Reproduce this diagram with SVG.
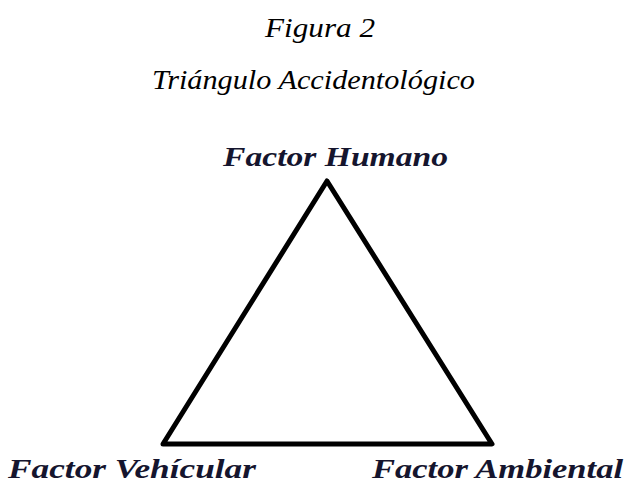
<svg xmlns="http://www.w3.org/2000/svg" width="626" height="483" viewBox="0 0 626 483">
<style>
.title{font-family:'Liberation Serif',serif;font-style:italic;fill:#000;}
.lbl{font-family:'Liberation Serif',serif;font-style:italic;font-weight:bold;font-size:27px;fill:#15152e;}
.edge{fill:none;stroke:#000;stroke-width:5;stroke-linejoin:round;stroke-linecap:round;}
</style>
<rect width="626" height="483" fill="#fff"/>
<text class="title" x="265" y="37" font-size="27" textLength="110" lengthAdjust="spacingAndGlyphs">Figura 2</text>
<text class="title" x="152" y="89" font-size="28" textLength="323" lengthAdjust="spacingAndGlyphs">Triángulo Accidentológico</text>
<g id="connectors">
<path class="edge" d="M327,181 L492,444 L163,444 Z"/>
</g>
<g id="node-humano"><text class="lbl" x="223" y="166" textLength="225" lengthAdjust="spacingAndGlyphs">Factor Humano</text></g>
<g id="node-vehicular"><text class="lbl" x="8" y="478" textLength="248" lengthAdjust="spacingAndGlyphs">Factor Vehícular</text></g>
<g id="node-ambiental"><text class="lbl" x="372" y="478" textLength="251" lengthAdjust="spacingAndGlyphs">Factor Ambiental</text></g>
</svg>
